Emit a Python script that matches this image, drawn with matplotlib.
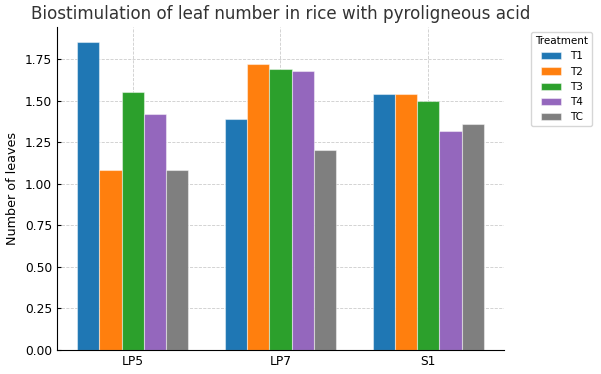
import numpy as np
import matplotlib
matplotlib.use('Agg')
import matplotlib.pyplot as plt

# Dati
varieties = ['LP5', 'LP7', 'S1']
treatments = ['T1', 'T2', 'T3', 'T4', 'TC']
T1 = [1.85, 1.39, 1.54]
T2 = [1.08, 1.72, 1.54]
T3 = [1.55, 1.69, 1.50]
T4 = [1.42, 1.68, 1.32]
TC = [1.08, 1.20, 1.36]
values = [T1, T2, T3, T4, TC]

colors = ['#1f77b4', '#ff7f0e', '#2ca02c', '#9467bd', '#7f7f7f']

fig = plt.figure(figsize=(6.01, 3.74), dpi=100)
ax = fig.add_axes([0.0948, 0.0642, 0.7438, 0.8636])

x = np.arange(len(varieties))
width = 0.15
for i, (name, vals) in enumerate(zip(treatments, values)):
    ax.bar(x + (i - 2) * width, vals, width, label=name, color=colors[i],
           edgecolor=(1, 1, 1, 0.45), linewidth=0.8)

ax.set_xticks(x)
ax.set_xticklabels(varieties, fontsize=8.8)
ax.tick_params(axis='y', labelsize=8.8)
ax.tick_params(direction='in', length=3)
ax.set_ylabel('Number of leaves', fontsize=9.2)
ax.set_title('Biostimulation of leaf number in rice with pyroligneous acid',
             fontsize=12.1, color='#333333')

ax.grid(True, linestyle='--', color='#cccccc', linewidth=0.6)
ax.set_axisbelow(True)
ax.spines['top'].set_visible(False)
ax.spines['right'].set_visible(False)

fig.legend(title='Treatment', loc='upper left', bbox_to_anchor=(0.8835, 0.9144),
           borderaxespad=0, fontsize=7.5, title_fontsize=7.5)

fig.savefig('out.png', dpi=100)
